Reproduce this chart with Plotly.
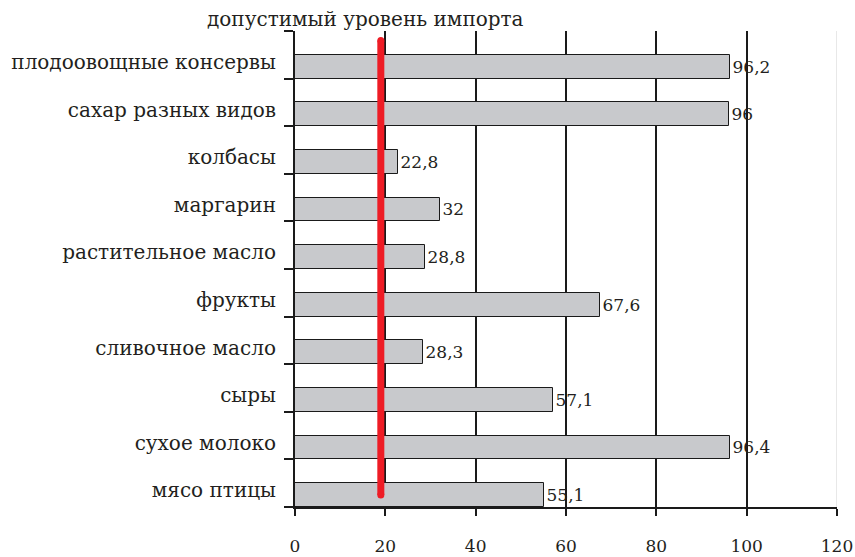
import plotly.graph_objects as go

# Data (top to bottom as in the reference)
categories = [
    "плодоовощные консервы",
    "сахар разных видов",
    "колбасы",
    "маргарин",
    "растительное масло",
    "фрукты",
    "сливочное масло",
    "сыры",
    "сухое молоко",
    "мясо птицы",
]
values = [96.2, 96, 22.8, 32, 28.8, 67.6, 28.3, 57.1, 96.4, 55.1]
threshold = 19.0
threshold_label = "допустимый уровень импорта"
x_ticks = [0, 20, 40, 60, 80, 100, 120]

# bottom category at index 0
cats_b = categories[::-1]
vals_b = values[::-1]
n = len(cats_b)
pos = list(range(n))
label_pos = [p - 0.15 for p in pos]
boundaries = [p - 0.5 for p in pos] + [n - 0.5]
texts = [f"{v:g}".replace(".", ",") for v in vals_b]

FONT = "DejaVu Serif"
TXT = "#231f20"

fig = go.Figure()
fig.add_trace(go.Bar(
    x=vals_b, y=pos, orientation="h",
    width=0.5, offset=-0.5,
    marker=dict(color="#c8c9cc", line=dict(color="#1a1a1a", width=1)),
    text=texts, textposition="outside", cliponaxis=False,
    constraintext="none",
    textfont=dict(family=FONT, size=17, color=TXT),
    hoverinfo="skip", showlegend=False,
))
fig.add_trace(go.Scatter(
    x=[threshold, threshold], y=[pos[0] - 0.25, boundaries[-1] - 0.2],
    mode="lines+markers",
    line=dict(color="#ee1c25", width=7),
    marker=dict(color="#ee1c25", size=7),
    hoverinfo="skip", showlegend=False,
))

fig.add_annotation(
    x=threshold, xref="x", y=1, yref="paper", yanchor="bottom",
    text=threshold_label, showarrow=False, xshift=-15, yshift=-2,
    font=dict(family=FONT, size=20, color=TXT),
)

fig.update_layout(
    width=855, height=557,
    margin=dict(l=295, r=18, t=31, b=50),
    paper_bgcolor="white", plot_bgcolor="white",
    bargap=0,
    xaxis=dict(
        range=[x_ticks[0], x_ticks[-1]], tickvals=x_ticks,
        automargin=False,
        showgrid=False, zeroline=False,
        showline=True, linecolor="#1a1a1a", linewidth=2,
        ticks="outside", ticklen=7, tickwidth=2, tickcolor="#1a1a1a",
        ticklabelstandoff=16,
        tickfont=dict(family=FONT, size=17, color=TXT),
        minor=dict(tickvals=x_ticks[1:-1], showgrid=True,
                   gridcolor="#1a1a1a", gridwidth=2),
    ),
    yaxis=dict(
        range=[boundaries[0], boundaries[-1]],
        tickvals=label_pos, ticktext=cats_b,
        automargin=False,
        showgrid=False, zeroline=False,
        showline=True, linecolor="#1a1a1a", linewidth=2,
        ticks="", ticklabelstandoff=13,
        tickfont=dict(family=FONT, size=20, color=TXT),
        minor=dict(tickvals=boundaries, ticks="outside", ticklen=9,
                   tickwidth=2, tickcolor="#1a1a1a", showgrid=False),
    ),
    shapes=[dict(type="line", xref="x", yref="paper",
                 x0=x_ticks[-1], x1=x_ticks[-1], y0=0, y1=1,
                 line=dict(color="#d0d0d0", width=1), layer="below")],
)

fig.write_html(
    "out.html",
    config={"displayModeBar": False},
    post_script="document.body.style.margin='0';document.body.style.overflow='hidden';",
)
